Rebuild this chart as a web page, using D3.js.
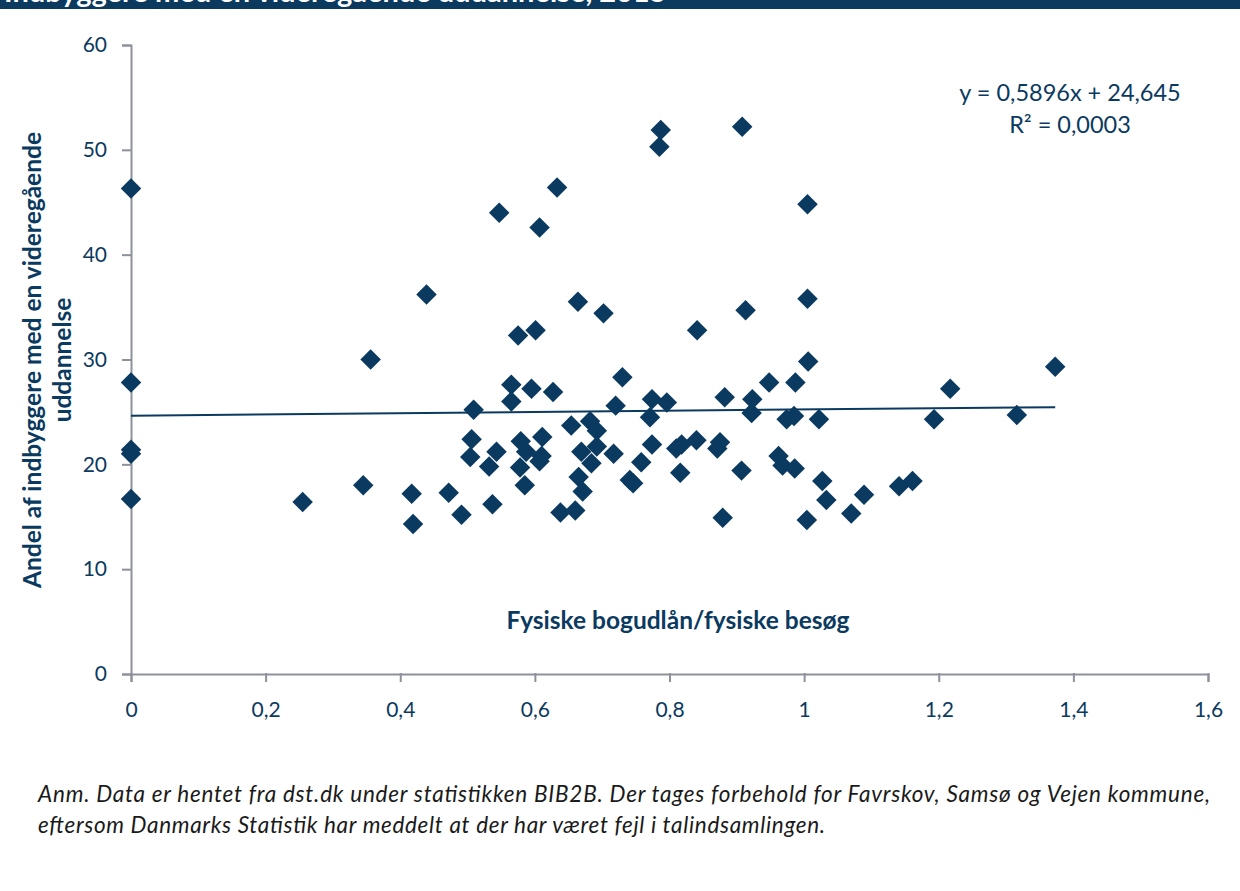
<!DOCTYPE html>
<html>
<head>
<meta charset="utf-8">
<script src="https://cdn.jsdelivr.net/npm/d3@7"></script>
<style>
  body { margin: 0; background: #fff; }
  svg { display: block; }
  .tick text { font-family: Lato, sans-serif; font-size: 21px; fill: #0b3a60; }
</style>
</head>
<body>
<svg width="1240" height="891"></svg>
<script>
// fysiske bogudlån / fysiske besøg
var xVals = [0, 0, 0, 0, 0, 0.255, 0.345, 0.356, 0.417, 0.419, 0.439, 0.472, 0.491, 0.504, 0.506, 0.509,
  0.532, 0.537, 0.543, 0.547, 0.565, 0.565, 0.575, 0.578, 0.579, 0.585, 0.587, 0.595, 0.601, 0.607, 0.607,
  0.610, 0.611, 0.627, 0.633, 0.638, 0.654, 0.660, 0.664, 0.665, 0.669, 0.671, 0.682, 0.684, 0.692, 0.692,
  0.702, 0.717, 0.720, 0.730, 0.741, 0.746, 0.758, 0.771, 0.774, 0.774, 0.785, 0.787, 0.796, 0.810, 0.816,
  0.818, 0.840, 0.841, 0.871, 0.875, 0.879, 0.882, 0.907, 0.908, 0.913, 0.922, 0.923, 0.948, 0.962, 0.968,
  0.974, 0.985, 0.986, 0.987, 1.004, 1.005, 1.005, 1.006, 1.022, 1.027, 1.033, 1.070, 1.089, 1.141, 1.161,
  1.193, 1.217, 1.316, 1.373];
// andel med videregående uddannelse (%)
var yVals = [46.3, 27.8, 21.0, 21.4, 16.7, 16.4, 18.0, 30.0, 17.2, 14.3, 36.2, 17.3, 15.2, 20.7, 22.4, 25.2,
  19.8, 16.2, 21.2, 44.0, 27.6, 26.0, 32.3, 19.7, 22.2, 18.0, 21.2, 27.2, 32.8, 42.6, 20.3,
  20.8, 22.6, 26.9, 46.4, 15.4, 23.7, 15.6, 35.5, 18.8, 21.2, 17.4, 24.1, 20.1, 23.2, 21.7,
  34.4, 21.0, 25.6, 28.3, 18.5, 18.2, 20.2, 24.5, 26.2, 21.9, 50.3, 51.9, 25.9, 21.5, 19.2,
  21.9, 22.3, 32.8, 21.5, 22.1, 14.9, 26.4, 19.4, 52.2, 34.7, 24.9, 26.2, 27.8, 20.8, 19.9,
  24.3, 24.6, 19.6, 27.8, 14.7, 44.8, 35.8, 29.8, 24.3, 18.4, 16.6, 15.3, 17.1, 17.9, 18.4,
  24.3, 27.2, 24.7, 29.3];

var xTicks = [0, 0.2, 0.4, 0.6, 0.8, 1, 1.2, 1.4, 1.6];
var yTicks = [0, 10, 20, 30, 40, 50, 60];
var trend = { slope: 0.5896, intercept: 24.645 };
var eqLines = ["y = 0,5896x + 24,645", "R² = 0,0003"];
var title = "Indbyggere med en videregående uddannelse, 2015";
var yTitle = ["Andel af indbyggere med en videregående", "uddannelse"];
var xTitle = "Fysiske bogudlån/fysiske besøg";
var note = ["Anm. Data er hentet fra dst.dk under statistikken BIB2B. Der tages forbehold for Favrskov, Samsø og Vejen kommune,",
  "eftersom Danmarks Statistik har meddelt at der har været fejl i talindsamlingen."];

var navy = "#0b3a60", axisGrey = "#8c919b";
var svg = d3.select("svg");

// banner (cut off at the top of the picture)
svg.append("rect").attr("x", 0).attr("y", 0).attr("width", 1240).attr("height", 9).attr("fill", "#0b3a5e");
svg.append("clipPath").attr("id", "banClip").append("rect").attr("width", 1240).attr("height", 9);
svg.append("text").attr("clip-path", "url(#banClip)")
  .attr("x", 4).attr("y", 2)
  .style("font-family", "Lato, sans-serif").style("font-weight", "bold").style("font-size", "29px")
  .attr("fill", "#fff").text(title);

var x = d3.scaleLinear().domain([0, 1.6]).range([131, 1208]);
var y = d3.scaleLinear().domain([0, 60]).range([674, 45]);
var fmt = function (d) { return String(d).replace(".", ","); };

var gx = svg.append("g").attr("transform", "translate(0," + y(0) + ")")
  .call(d3.axisBottom(x).tickValues(xTicks).tickFormat(fmt).tickSize(8).tickPadding(20));
var gy = svg.append("g").attr("transform", "translate(" + x(0) + ",0)")
  .call(d3.axisLeft(y).tickValues(yTicks).tickSize(9).tickPadding(15));
[gx, gy].forEach(function (g) {
  g.select(".domain").attr("stroke", axisGrey).attr("stroke-width", 2);
  g.selectAll(".tick line").attr("stroke", axisGrey).attr("stroke-width", 2);
});
gx.selectAll(".tick line").attr("y1", -1);

// trend line
var x1 = d3.max(xVals);
svg.append("line")
  .attr("x1", x(0)).attr("y1", y(trend.intercept))
  .attr("x2", x(x1)).attr("y2", y(trend.intercept + trend.slope * x1))
  .attr("stroke", navy).attr("stroke-width", 2);

// markers
var diamond = d3.symbol().type(d3.symbolSquare).size(210);
svg.append("g").selectAll("path")
  .data(xVals.map(function (v, i) { return [v, yVals[i]]; }))
  .enter().append("path")
  .attr("d", diamond)
  .attr("transform", function (d) { return "translate(" + x(d[0]) + "," + y(d[1]) + ") rotate(45)"; })
  .attr("fill", navy);

// equation
svg.append("g").selectAll("text").data(eqLines).enter().append("text")
  .attr("x", 1070).attr("y", function (d, i) { return 101 + i * 32; })
  .attr("text-anchor", "middle")
  .style("font-family", "Lato, sans-serif").style("font-size", "23.5px")
  .attr("fill", navy).text(function (d) { return d; });

// axis titles
svg.append("text").attr("x", 678).attr("y", 629).attr("text-anchor", "middle")
  .style("font-family", "Lato, sans-serif").style("font-weight", "bold").style("font-size", "24.5px")
  .attr("fill", navy).text(xTitle);
svg.append("g").attr("transform", "translate(0,360) rotate(-90)")
  .selectAll("text").data(yTitle).enter().append("text")
  .attr("x", 0).attr("y", function (d, i) { return 41 + i * 30; })
  .attr("text-anchor", "middle")
  .style("font-family", "Lato, sans-serif").style("font-weight", "bold").style("font-size", "24.5px")
  .attr("fill", navy).text(function (d) { return d; });

// note
var noteW = [1172, 787];
svg.append("g").selectAll("text").data(note).enter().append("text")
  .attr("x", 38).attr("y", function (d, i) { return 802 + i * 31; })
  .attr("textLength", function (d, i) { return noteW[i]; })
  .style("font-family", "Lato, sans-serif").style("font-style", "italic").style("font-size", "22.5px")
  .attr("fill", "#1a1a1a").text(function (d) { return d; });
</script>
</body>
</html>
